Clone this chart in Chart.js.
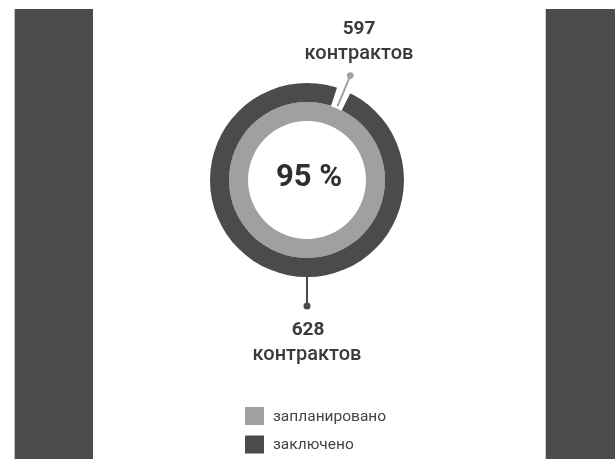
<!DOCTYPE html>
<html>
<head>
<meta charset="utf-8">
<script src="https://cdn.jsdelivr.net/npm/chart.js@4"></script>
<style>
  html, body { margin: 0; padding: 0; background: #fff; }
  body { width: 615px; height: 459px; position: relative; overflow: hidden; }
  .bar { position: absolute; background: #4b4b4b; top: 9px; bottom: 0; }
  #left { left: 14px; width: 78px; border-left: 1px solid #bdbdbd; }
  #right { left: 545px; width: 70px; border-left: 1px solid #d0d0d0; }
  #wrap { position: absolute; left: 0; top: 0; width: 615px; height: 459px; }
</style>
</head>
<body>
<div class="bar" id="left"></div>
<div class="bar" id="right"></div>
<div id="wrap"><canvas id="c" width="615" height="459"></canvas></div>
<script>
const categories = ['запланировано', 'заключено'];
const contractCounts = [597, 628];
const centerLabel = '95 %';
const unitLabel = 'контрактов';
const colors = ['#a0a0a0', '#4b4b4b'];

const calloutPlugin = {
  id: 'callouts',
  afterDatasetsDraw(chart) {
    const ctx = chart.ctx;
    const outer = chart.getDatasetMeta(0).data[0];
    const inner = chart.getDatasetMeta(1).data[0];
    const cx = outer.x, cy = outer.y;
    const R = outer.outerRadius, r = outer.innerRadius;
    const toA = d => -Math.PI / 2 + d * Math.PI / 180;
    ctx.save();
    // gap in the outer ring
    ctx.beginPath();
    ctx.arc(cx, cy, R + 1, toA(18), toA(26.5));
    ctx.arc(cx, cy, r - 0.5, toA(26.5), toA(18), true);
    ctx.closePath();
    ctx.fillStyle = '#ffffff';
    ctx.fill();
    // top callout (light)
    const a = toA(22.5);
    ctx.strokeStyle = colors[0];
    ctx.lineWidth = 2;
    ctx.beginPath();
    ctx.moveTo(cx + Math.cos(a) * (inner.outerRadius + 2), cy + Math.sin(a) * (inner.outerRadius + 2));
    ctx.lineTo(cx + Math.cos(a) * 113, cy + Math.sin(a) * 113);
    ctx.stroke();
    ctx.fillStyle = colors[0];
    ctx.beginPath();
    ctx.arc(cx + Math.cos(a) * 113, cy + Math.sin(a) * 113, 3.3, 0, Math.PI * 2);
    ctx.fill();
    // bottom callout (dark)
    ctx.strokeStyle = colors[1];
    ctx.beginPath();
    ctx.moveTo(cx, cy + R - 1);
    ctx.lineTo(cx, cy + R + 29);
    ctx.stroke();
    ctx.fillStyle = colors[1];
    ctx.beginPath();
    ctx.arc(cx, cy + R + 29, 3.5, 0, Math.PI * 2);
    ctx.fill();

    // texts
    ctx.textAlign = 'center';
    ctx.textBaseline = 'middle';
    ctx.fillStyle = '#2e2e2e';
    ctx.font = 'bold 31px Roboto';
    ctx.fillText(centerLabel, cx + 2, cy - 2);

    ctx.fillStyle = '#3a3a3a';
    ctx.font = 'bold 19px Roboto';
    ctx.fillText(String(contractCounts[0]), 359, 29);
    ctx.font = '500 20px Roboto';
    ctx.fillText(unitLabel, 359, 54);
    ctx.font = 'bold 19px Roboto';
    ctx.fillText(String(contractCounts[1]), 308, 330);
    ctx.font = '500 20px Roboto';
    ctx.fillText(unitLabel, 307, 355);

    // legend
    ctx.textAlign = 'left';
    ctx.font = '15.5px Roboto';
    categories.forEach((name, i) => {
      const y = 407 + i * 28.5;
      ctx.fillStyle = colors[i];
      ctx.fillRect(245, y, 19, 18);
      ctx.fillStyle = '#444444';
      ctx.fillText(name, 273, y + 10);
    });
    ctx.restore();
  }
};

new Chart(document.getElementById('c'), {
  type: 'doughnut',
  data: {
    labels: [categories[1], categories[0]],
    datasets: [
      { label: categories[1], data: [contractCounts[1]], backgroundColor: [colors[1]], borderWidth: 0 },
      { label: categories[0], data: [contractCounts[0]], backgroundColor: [colors[0]], borderWidth: 0 }
    ]
  },
  options: {
    responsive: false,
    animation: false,
    radius: 97,
    cutout: '60.8%',
    layout: { padding: { left: 0, right: 1, top: 0, bottom: 99 } },
    plugins: { legend: { display: false }, tooltip: { enabled: false } }
  },
  plugins: [calloutPlugin]
});
</script>
</body>
</html>
